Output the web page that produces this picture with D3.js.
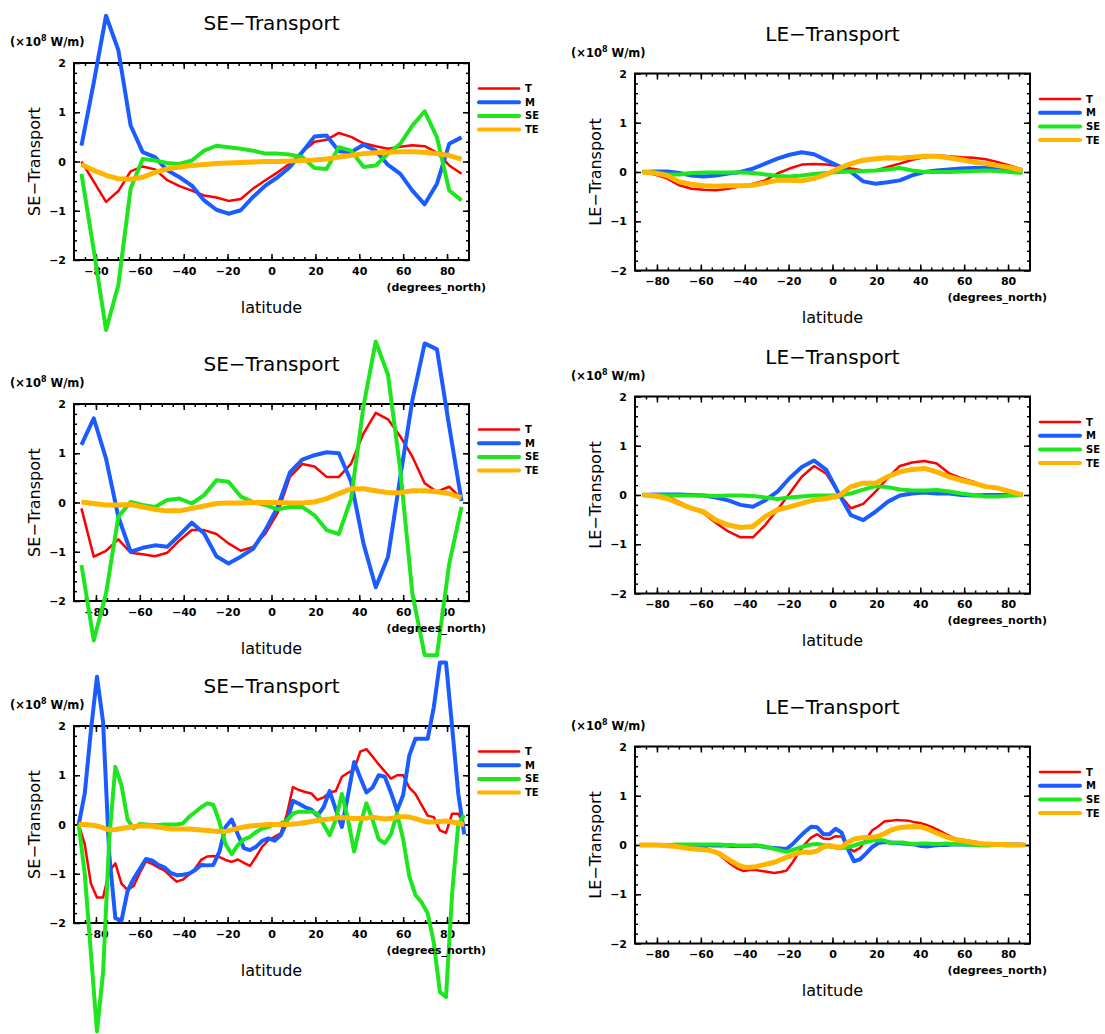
<!DOCTYPE html>
<html>
<head>
<meta charset="utf-8">
<script src="https://cdnjs.cloudflare.com/ajax/libs/d3/7.8.5/d3.min.js"></script>
<style>
  body { margin: 0; background: #fff; }
</style>
</head>
<body>
<svg class="chart"></svg>
<script>
// latitudes of the two grids
var latCoarse = [-86.6,-81.0,-75.4,-69.8,-64.2,-58.7,-53.1,-47.5,-41.9,-36.3,-30.7,-25.1,-19.6,-14.0,-8.4,-2.8,
                 2.8,8.4,14.0,19.6,25.1,30.7,36.3,41.9,47.5,53.1,58.7,64.2,69.8,75.4,81.0,86.6];
var latFine = [-87.86,-85.10,-82.31,-79.53,-76.74,-73.95,-71.16,-68.37,-65.58,-62.79,-60.00,-57.21,-54.42,-51.63,-48.84,-46.04,
               -43.25,-40.46,-37.67,-34.88,-32.09,-29.30,-26.51,-23.72,-20.93,-18.14,-15.35,-12.56,-9.77,-6.98,-4.19,-1.40,
               1.40,4.19,6.98,9.77,12.56,15.35,18.14,20.93,23.72,26.51,29.30,32.09,34.88,37.67,40.46,43.25,
               46.04,48.84,51.63,54.42,57.21,60.00,62.79,65.58,68.37,71.16,73.95,76.74,79.53,82.31,85.10,87.86];

var xTicks = [-80, -60, -40, -20, 0, 20, 40, 60, 80];
var yTicks = [-2, -1, 0, 1, 2];

var seriesNames = ["T", "M", "SE", "TE"];

// panel 1: SE transport (top)
var se1T  = [0.0,-0.41,-0.82,-0.6,-0.2,-0.1,-0.16,-0.38,-0.5,-0.59,-0.69,-0.73,-0.8,-0.76,-0.55,-0.38,-0.22,-0.04,0.19,0.4,0.44,0.58,0.5,0.37,0.31,0.26,0.3,0.33,0.31,0.18,-0.08,-0.25];
var se1M  = [0.32,1.6,2.96,2.26,0.73,0.19,0.09,-0.18,-0.32,-0.49,-0.79,-0.98,-1.06,-0.99,-0.72,-0.49,-0.32,-0.11,0.19,0.51,0.53,0.21,0.19,0.34,0.22,-0.07,-0.25,-0.59,-0.87,-0.45,0.36,0.49];
var se1SE = [-0.25,-1.8,-3.42,-2.51,-0.55,0.05,0.02,-0.03,-0.05,0.02,0.22,0.32,0.29,0.26,0.22,0.16,0.16,0.14,0.09,-0.13,-0.15,0.29,0.22,-0.11,-0.08,0.16,0.36,0.73,1.02,0.49,-0.59,-0.79];
var se1TE = [-0.06,-0.18,-0.28,-0.35,-0.36,-0.32,-0.22,-0.15,-0.11,-0.08,-0.06,-0.04,-0.03,-0.02,-0.01,0.0,0.0,0.01,0.02,0.03,0.05,0.09,0.12,0.16,0.18,0.19,0.2,0.2,0.19,0.16,0.12,0.05];

// panel 2: LE transport (top)
var le1T  = [0,-0.05,-0.13,-0.27,-0.34,-0.36,-0.37,-0.34,-0.29,-0.24,-0.17,-0.03,0.07,0.15,0.16,0.15,0.12,0.07,0.03,0.03,0.1,0.17,0.25,0.3,0.34,0.32,0.3,0.29,0.26,0.2,0.13,0.05];
var le1M  = [0,0.01,0.01,-0.02,-0.07,-0.09,-0.07,-0.03,0,0.07,0.17,0.27,0.35,0.4,0.36,0.24,0.12,0,-0.19,-0.24,-0.21,-0.17,-0.07,0,0.03,0.05,0.07,0.08,0.08,0.07,0.03,0.01];
var le1SE = [0,-0.01,-0.05,-0.05,-0.02,-0.01,-0.01,-0.01,-0.01,-0.02,-0.05,-0.08,-0.09,-0.07,-0.04,-0.02,0,0.01,0.02,0.03,0.05,0.08,0.03,0,0,0,0.01,0.02,0.03,0.02,0,-0.02];
var le1TE = [0,-0.02,-0.07,-0.2,-0.25,-0.28,-0.29,-0.28,-0.28,-0.27,-0.22,-0.17,-0.17,-0.18,-0.13,-0.05,0.07,0.17,0.24,0.27,0.29,0.28,0.3,0.32,0.32,0.29,0.25,0.2,0.17,0.13,0.09,0.03];

// panel 3: SE transport (middle)
var se2T  = [-0.12,-1.1,-0.98,-0.75,-1.02,-1.05,-1.09,-1.02,-0.77,-0.56,-0.56,-0.64,-0.83,-0.98,-0.9,-0.63,-0.21,0.52,0.78,0.73,0.52,0.52,0.79,1.4,1.82,1.69,1.34,0.93,0.39,0.22,0.32,0.08];
var se2M  = [1.17,1.71,0.89,-0.29,-1.0,-0.92,-0.87,-0.9,-0.66,-0.41,-0.63,-1.09,-1.24,-1.1,-0.94,-0.56,-0.09,0.61,0.87,0.96,1.02,1.0,0.42,-0.83,-1.72,-1.1,0.52,2.08,3.23,3.11,1.54,0.03];
var se2SE = [-1.27,-2.8,-1.85,-0.29,0.01,-0.05,-0.09,0.05,0.08,-0.02,0.15,0.45,0.42,0.12,0.01,-0.05,-0.14,-0.09,-0.09,-0.26,-0.56,-0.64,0.08,1.95,3.27,2.59,0.66,-1.85,-3.1,-3.1,-1.24,-0.09];
var se2TE = [0.01,-0.02,-0.05,-0.05,-0.04,-0.09,-0.14,-0.17,-0.17,-0.12,-0.07,-0.02,-0.01,-0.01,0,0,0,-0.01,-0.01,0.01,0.08,0.18,0.28,0.28,0.24,0.2,0.2,0.24,0.24,0.22,0.18,0.1];

// panel 4: LE transport (middle)
var le2T  = [0,-0.01,-0.03,-0.14,-0.27,-0.37,-0.57,-0.74,-0.86,-0.86,-0.61,-0.3,0.03,0.37,0.59,0.43,0.03,-0.27,-0.18,0.07,0.34,0.59,0.66,0.69,0.64,0.44,0.34,0.27,0.17,0.14,0.09,0.01];
var le2M  = [0,0.01,0.01,0.01,0,-0.01,-0.05,-0.11,-0.2,-0.24,-0.11,0.07,0.34,0.57,0.7,0.51,0.03,-0.41,-0.51,-0.34,-0.14,-0.01,0.03,0.05,0.03,0.03,0,-0.01,0,0,0,0];
var le2SE = [0,0,-0.01,-0.01,-0.01,-0.01,-0.02,-0.01,-0.01,-0.02,-0.05,-0.08,-0.05,-0.03,-0.01,-0.01,-0.01,0.03,0.11,0.18,0.16,0.11,0.09,0.09,0.1,0.07,0.03,0,-0.03,-0.03,-0.01,0];
var le2TE = [0,-0.02,-0.07,-0.17,-0.27,-0.34,-0.51,-0.61,-0.66,-0.64,-0.44,-0.3,-0.24,-0.17,-0.1,-0.07,-0.02,0.17,0.24,0.24,0.37,0.47,0.52,0.54,0.47,0.37,0.3,0.24,0.17,0.14,0.07,0];

// panel 5: SE transport (bottom, fine grid)
var se3T  = [0,-0.4,-1.2,-1.48,-1.48,-0.95,-0.79,-1.2,-1.33,-1.25,-0.98,-0.75,-0.8,-0.87,-0.93,-1.05,
             -1.16,-1.12,-1.02,-0.9,-0.72,-0.65,-0.64,-0.66,-0.72,-0.76,-0.71,-0.78,-0.84,-0.65,-0.45,-0.32,
             -0.25,-0.18,0.2,0.76,0.7,0.66,0.63,0.5,0.55,0.65,0.68,0.97,1.05,1.12,1.48,1.53,
             1.38,1.22,1.08,0.93,1.0,1.0,0.75,0.62,0.4,0.18,0.15,-0.12,-0.17,0.22,0.22,0.0];
var se3M  = [0,0.63,1.9,3.0,2.08,-0.6,-1.9,-1.95,-1.35,-1.1,-0.9,-0.7,-0.73,-0.82,-0.87,-0.98,
             -1.03,-1.02,-1.0,-0.93,-0.82,-0.83,-0.82,-0.55,-0.05,0.1,-0.2,-0.48,-0.52,-0.45,-0.33,-0.28,
             -0.33,-0.22,0.05,0.48,0.42,0.35,0.3,0.18,0.35,0.68,0.3,-0.05,0.6,1.27,0.95,0.65,
             0.75,1.0,0.97,0.65,0.28,0.6,1.4,1.74,1.74,1.74,2.38,3.29,3.29,1.98,0.63,-0.2];
var se3SE = [0,-1.0,-2.6,-4.2,-3.0,-0.3,1.17,0.8,0.1,-0.08,0.01,0,-0.01,-0.01,0,0,
             0,0.02,0.15,0.25,0.35,0.43,0.4,0.05,-0.4,-0.6,-0.42,-0.3,-0.25,-0.15,-0.08,-0.05,
             0,0.02,0.08,0.22,0.26,0.26,0.26,0.22,0,-0.22,0.1,0.62,0.1,-0.55,0,0.43,
             0.1,-0.3,-0.38,-0.2,0.22,-0.3,-1.05,-1.43,-1.58,-1.8,-2.4,-3.4,-3.5,-1.4,0,0.19];
var se3TE = [0,0,-0.01,-0.03,-0.07,-0.11,-0.1,-0.08,-0.06,-0.04,-0.03,-0.03,-0.03,-0.05,-0.07,-0.09,
             -0.09,-0.09,-0.09,-0.1,-0.11,-0.12,-0.13,-0.14,-0.14,-0.11,-0.08,-0.05,-0.03,-0.02,-0.01,0,
             0,0,0,0.01,0.02,0.04,0.06,0.08,0.1,0.11,0.13,0.14,0.13,0.12,0.12,0.13,
             0.15,0.13,0.11,0.12,0.15,0.16,0.15,0.12,0.08,0.05,0.05,0.06,0.07,0.05,0.03,0];

// panel 6: LE transport (bottom, fine grid)
var le3T  = [0,0,0,0,0,0,0,0,0,-0.02,-0.04,-0.07,-0.12,-0.2,-0.3,-0.4,
             -0.48,-0.53,-0.51,-0.51,-0.53,-0.55,-0.57,-0.55,-0.52,-0.35,-0.15,0.02,0.15,0.22,0.13,0.12,
             0.18,0.17,-0.05,-0.13,-0.06,0.12,0.3,0.38,0.48,0.49,0.51,0.5,0.49,0.46,0.44,0.4,
             0.35,0.29,0.22,0.16,0.12,0.1,0.08,0.06,0.03,0.02,0.01,0.01,0.01,0,0,0];
var le3M  = [0,0,0,0,0,0,0,0,0,0,0,0,-0.01,-0.01,-0.01,-0.02,
             -0.02,-0.02,-0.02,-0.01,-0.03,-0.05,-0.06,-0.07,-0.08,0.02,0.15,0.27,0.37,0.36,0.22,0.22,
             0.33,0.25,-0.08,-0.33,-0.29,-0.17,-0.04,0.04,0.06,0.05,0.04,0.03,0.02,0.01,-0.02,-0.03,
             -0.01,0,0,0.01,0.01,0.01,0.01,0.01,0.01,0.01,0.01,0.01,0.01,0.01,0.01,0];
var le3SE = [0,0,0,0,0,0,0.01,0.01,0.01,0.01,0.01,0.01,0.01,0.01,0,0,
             -0.01,-0.01,-0.01,-0.01,-0.02,-0.05,-0.08,-0.11,-0.14,-0.1,-0.06,-0.02,0.01,0.02,0,-0.03,
             -0.05,-0.06,-0.05,-0.01,0.03,0.06,0.09,0.1,0.09,0.04,0.05,0.05,0.03,0.02,0.03,0.03,
             0.02,0.02,0.03,0.02,0.02,0.01,0.01,0,-0.01,-0.01,0,0,-0.01,0,0,0];
var le3TE = [0,0,0,0,-0.01,-0.02,-0.03,-0.05,-0.07,-0.08,-0.09,-0.1,-0.13,-0.17,-0.25,-0.33,
             -0.4,-0.45,-0.45,-0.44,-0.41,-0.38,-0.35,-0.3,-0.25,-0.2,-0.16,-0.14,-0.15,-0.12,-0.04,-0.01,
             -0.04,-0.04,0.05,0.12,0.14,0.15,0.16,0.18,0.23,0.3,0.34,0.36,0.37,0.37,0.37,0.33,
             0.27,0.22,0.17,0.13,0.1,0.08,0.06,0.04,0.02,0.02,0.01,0.01,0.01,0,0,0];

var width = 1105,
    height = 1034;

var plotW = 395,
    plotH = 197;

var seriesColors = ["#ff0000", "#1a5cff", "#1ee61e", "#ffb400"];
var seriesWidths = [2.5, 4, 4, 5];

var chart = d3.select(".chart")
    .attr("width", width)
    .attr("height", height)
    .style("background", "#fff");

var panels = [
  {title: "SE\u2212Transport", lat: latCoarse, series: [se1T, se1M, se1SE, se1TE], left: 74, top: 63},
  {title: "LE\u2212Transport", lat: latCoarse, series: [le1T, le1M, le1SE, le1TE], left: 635, top: 73.5},
  {title: "SE\u2212Transport", lat: latCoarse, series: [se2T, se2M, se2SE, se2TE], left: 74, top: 404},
  {title: "LE\u2212Transport", lat: latCoarse, series: [le2T, le2M, le2SE, le2TE], left: 635, top: 396.5},
  {title: "SE\u2212Transport", lat: latFine, series: [se3T, se3M, se3SE, se3TE], left: 74, top: 726},
  {title: "LE\u2212Transport", lat: latFine, series: [le3T, le3M, le3SE, le3TE], left: 635, top: 746.5}
];

var x = d3.scaleLinear().domain([-90, 90]).range([0, plotW]);
var y = d3.scaleLinear().domain([-2, 2]).range([plotH, 0]);

var line = d3.line()
    .x(function(d) { return x(d.lat); })
    .y(function(d) { return y(d.v); });

var fmt = function(d) { return d3.format("d")(d); };

function styleAxis(g) {
  g.select(".domain").remove();
  g.selectAll(".tick line").attr("stroke", "#000").attr("stroke-width", 1.5);
  g.selectAll(".tick text")
    .attr("fill", "#000")
    .attr("font-family", "DejaVu Sans")
    .attr("font-weight", "bold")
    .attr("font-size", 11);
}

function drawPanel(p) {
  var g = chart.append("g")
      .attr("transform", "translate(" + p.left + "," + p.top + ")");

  // minor ticks, inward on all four sides
  g.append("g").attr("transform", "translate(0," + plotH + ")")
    .call(d3.axisBottom(x).tickValues(d3.range(-85, 90, 5)).tickSize(-3).tickFormat(""))
    .call(styleAxis);
  g.append("g")
    .call(d3.axisTop(x).tickValues(d3.range(-85, 90, 5)).tickSize(-3).tickFormat(""))
    .call(styleAxis);
  g.append("g")
    .call(d3.axisLeft(y).tickValues(d3.range(-1.8, 2, 0.2)).tickSize(-3).tickFormat(""))
    .call(styleAxis);
  g.append("g").attr("transform", "translate(" + plotW + ",0)")
    .call(d3.axisRight(y).tickValues(d3.range(-1.8, 2, 0.2)).tickSize(-3).tickFormat(""))
    .call(styleAxis);

  // major ticks with labels
  g.append("g").attr("transform", "translate(0," + plotH + ")")
    .call(d3.axisBottom(x).tickValues(xTicks).tickSize(-6).tickPadding(7).tickFormat(fmt))
    .call(styleAxis);
  g.append("g")
    .call(d3.axisTop(x).tickValues(xTicks).tickSize(-6).tickFormat(""))
    .call(styleAxis);
  g.append("g")
    .call(d3.axisLeft(y).tickValues(yTicks).tickSize(-6).tickPadding(8).tickFormat(fmt))
    .call(styleAxis);
  g.append("g").attr("transform", "translate(" + plotW + ",0)")
    .call(d3.axisRight(y).tickValues(yTicks).tickSize(-6).tickFormat(""))
    .call(styleAxis);

  g.append("rect")
    .attr("width", plotW)
    .attr("height", plotH)
    .attr("fill", "none")
    .attr("stroke", "#000")
    .attr("stroke-width", 2);

  // the curves are not clipped, they run past the frame like the original
  p.series.forEach(function(vals, i) {
    var pts = p.lat.map(function(lat, j) { return {lat: lat, v: vals[j]}; });
    g.append("path")
      .datum(pts)
      .attr("d", line)
      .attr("fill", "none")
      .attr("stroke", seriesColors[i])
      .attr("stroke-width", seriesWidths[i])
      .attr("stroke-linejoin", "round");
  });

  // texts
  g.append("text")
    .attr("x", plotW / 2)
    .attr("y", -40)
    .attr("text-anchor", "middle")
    .attr("dominant-baseline", "central")
    .attr("font-family", "DejaVu Sans")
    .attr("font-size", 20)
    .text(p.title);

  var units = g.append("text")
    .attr("x", -64)
    .attr("y", -17)
    .attr("font-family", "DejaVu Sans")
    .attr("font-weight", "bold")
    .attr("font-size", 11.5);
  units.append("tspan").text("(\u00d710");
  units.append("tspan").attr("dy", -5).attr("font-size", 8).text("8");
  units.append("tspan").attr("dy", 5).text(" W/m)");

  g.append("text")
    .attr("transform", "translate(-40," + (plotH / 2) + ") rotate(-90)")
    .attr("text-anchor", "middle")
    .attr("dominant-baseline", "central")
    .attr("font-family", "DejaVu Sans")
    .attr("font-size", 16)
    .text(p.title);

  g.append("text")
    .attr("x", plotW / 2)
    .attr("y", plotH + 47)
    .attr("text-anchor", "middle")
    .attr("dominant-baseline", "central")
    .attr("font-family", "DejaVu Sans")
    .attr("font-size", 16)
    .text("latitude");

  g.append("text")
    .attr("x", plotW + 17)
    .attr("y", plotH + 27)
    .attr("text-anchor", "end")
    .attr("dominant-baseline", "central")
    .attr("font-family", "DejaVu Sans")
    .attr("font-weight", "bold")
    .attr("font-size", 11)
    .text("(degrees_north)");

  // legend
  var leg = g.append("g").attr("transform", "translate(" + plotW + ",25.5)");
  seriesNames.forEach(function(name, i) {
    leg.append("line")
      .attr("x1", 10).attr("x2", 50)
      .attr("y1", i * 13.7).attr("y2", i * 13.7)
      .attr("stroke", seriesColors[i])
      .attr("stroke-width", i == 0 ? 2.5 : 4)
      .attr("stroke-linecap", "round");
    leg.append("text")
      .attr("x", 56)
      .attr("y", i * 13.7)
      .attr("dominant-baseline", "central")
      .attr("font-family", "DejaVu Sans")
      .attr("font-weight", "bold")
      .attr("font-size", 10)
      .text(name);
  });
}

panels.forEach(function(p) { drawPanel(p); });
</script>
</body>
</html>
